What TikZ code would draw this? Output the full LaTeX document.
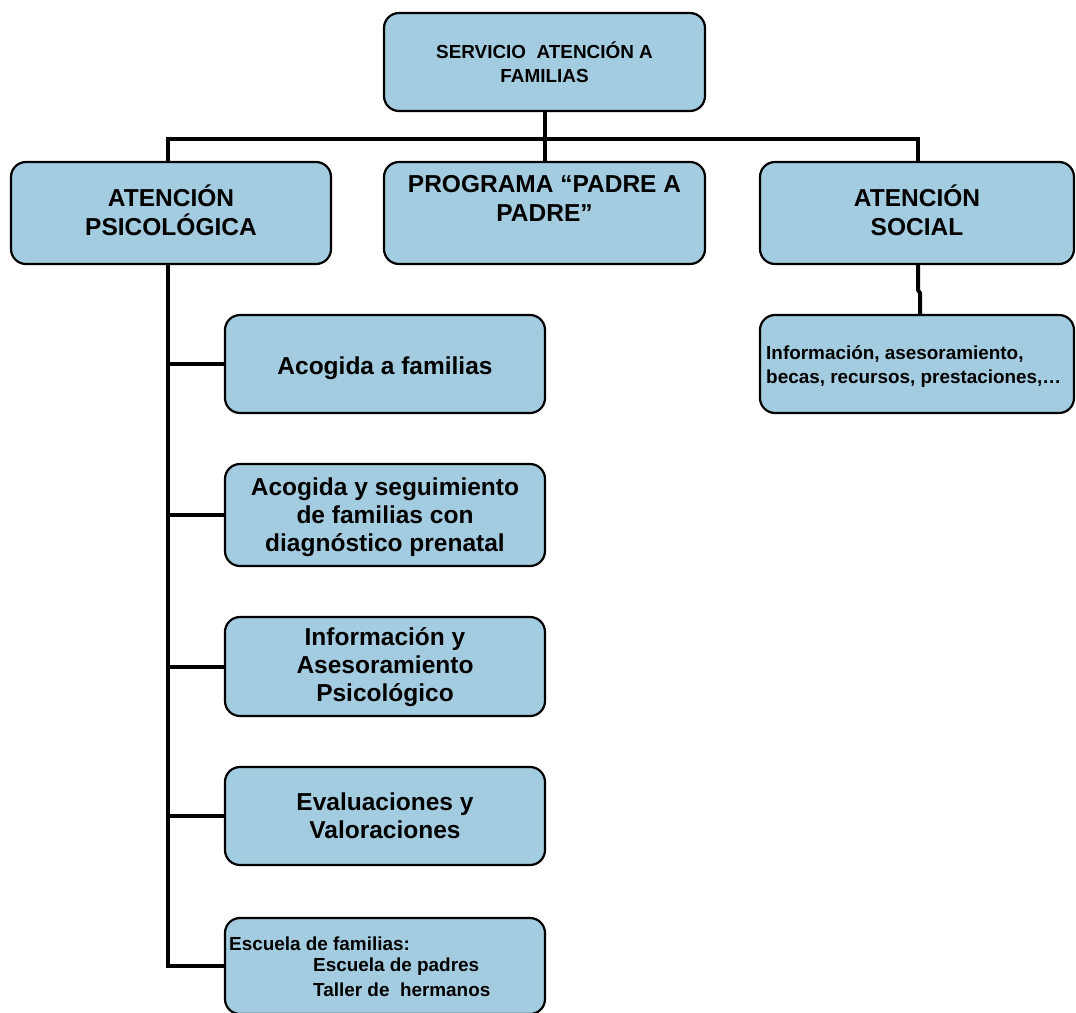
\documentclass[tikz,border=0pt]{standalone}
\usepackage{fontspec}
\setmainfont{Liberation Sans}
\definecolor{boxblue}{RGB}{164,204,224}
\begin{document}
\begin{tikzpicture}[x=1pt,y=-1pt,
  box/.style={draw=black, line width=2.2pt, fill=boxblue, rounded corners=15pt,
    inner sep=0pt, outer sep=0pt, minimum width=#1},
  conn/.style={draw=black, line width=4pt, line join=miter},
  big/.style={font=\fontsize{24.5}{29}\selectfont\bfseries, align=center, inner sep=0pt},
  mid/.style={font=\fontsize{24.5}{28}\selectfont\bfseries, align=center, inner sep=0pt},
  small/.style={font=\fontsize{18.9}{24}\selectfont\bfseries, inner sep=0pt}]
\clip (0,0) rectangle (1076,1012);
\fill[white] (0,0) rectangle (1076,1012);
% boxes
\node[box=321pt, minimum height=98pt] (top) at (544.5,62) {};
\node[box=320pt, minimum height=102pt] (psi) at (171,213) {};
\node[box=321pt, minimum height=102pt] (prog) at (544.5,213) {};
\node[box=314pt, minimum height=102pt] (soc) at (917,213) {};
\node[box=320pt, minimum height=98pt] (c1) at (385,364) {};
\node[box=320pt, minimum height=102pt] (c2) at (385,515) {};
\node[box=320pt, minimum height=99pt] (c3) at (385,666.5) {};
\node[box=320pt, minimum height=98pt] (c4) at (385,816) {};
\node[box=320pt, minimum height=96pt] (c5) at (385,966) {};
\node[box=314pt, minimum height=98pt] (si) at (917,364) {};
% texts
\node[small, align=center] (ttop) at (top.center) {SERVICIO\ \ ATENCIÓN A\\FAMILIAS};
\node[big] (tpsi) at ([yshift=3pt]psi.center) {ATENCIÓN\\PSICOLÓGICA};
\node[big] (tprog) at ([yshift=15pt]prog.center) {PROGRAMA “PADRE A\\PADRE”};
\node[big] (tsoc) at ([yshift=3pt]soc.center) {ATENCIÓN\\SOCIAL};
\node[mid] (tc1) at ([yshift=-4pt]c1.center) {Acogida a familias};
\node[mid] (tc2) at ([yshift=-2pt]c2.center) {Acogida y seguimiento\\de familias con\\diagnóstico prenatal};
\node[mid] (tc3) at ([yshift=-1pt]c3.center) {Información y\\Asesoramiento\\Psicológico};
\node[mid] (tc4) at (c4.center) {Evaluaciones y\\Valoraciones};
\node[small, align=left, anchor=west] (tsi) at (766,367) {Información, asesoramiento,\\becas, recursos, prestaciones,…};
\node[small, anchor=west] (tc5a) at (229,944) {Escuela de familias:};
\node[small, anchor=west] (tc5b) at (313,967) {Escuela de padres};
\node[small, anchor=west] (tc5c) at (313,990) {Taller de\ \ hermanos};
% connectors
\coordinate (barL) at (168,139);
\coordinate (barR) at (918,139);
\draw[conn] (top.south) -- (prog.north);
\draw[conn] (psi.north -| barL) -- (barL) -- (barR) -- (soc.north -| barR);
\draw[conn] (psi.south -| barL) -- (c5.west -| barL) -- (c5.west);
\draw[conn] (c1.west -| barL) -- (c1.west);
\draw[conn] (c2.west -| barL) -- (c2.west);
\draw[conn] (c3.west -| barL) -- (c3.west);
\draw[conn] (c4.west -| barL) -- (c4.west);
\draw[conn] (soc.south -| barR) -- ++(0,26) -- ++(2,3) -- (si.north -| 920,0);
\end{tikzpicture}
\end{document}
